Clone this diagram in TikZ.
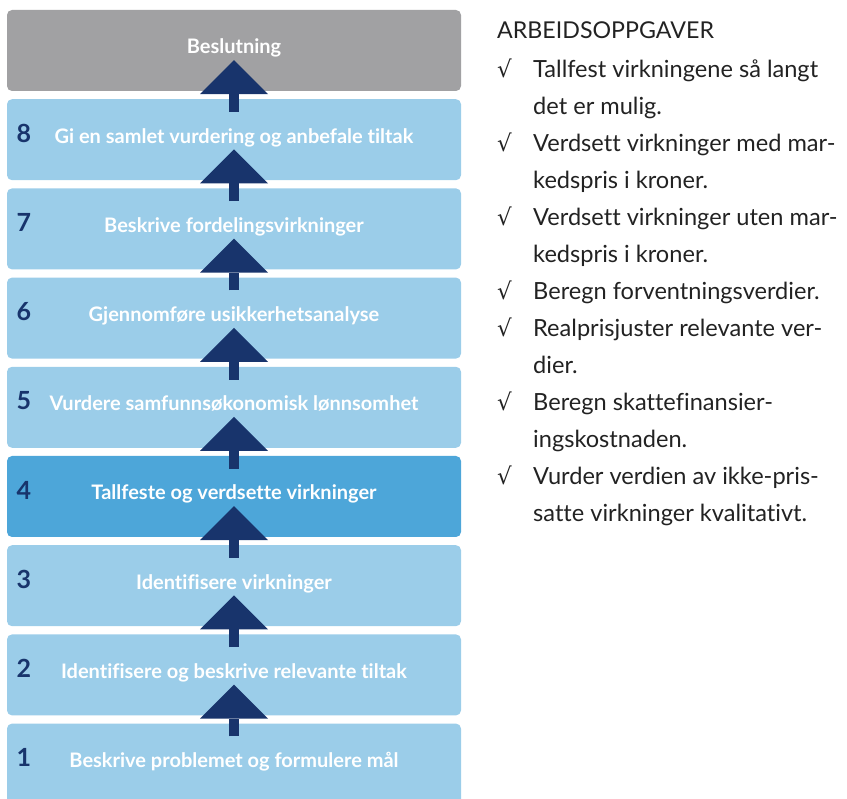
\documentclass[tikz,border=0pt]{standalone}
\usepackage{fontspec}
\setmainfont{Lato}[Ligatures=NoCommon]
\newfontfamily\symfont{DejaVu Sans}
\usetikzlibrary{positioning,arrows.meta}
\definecolor{stepblue}{RGB}{155,205,233}
\definecolor{activeblue}{RGB}{77,166,217}
\definecolor{decisiongray}{RGB}{161,161,163}
\definecolor{navy}{RGB}{24,52,108}
\definecolor{tasktext}{RGB}{34,34,34}

\begin{document}
\begin{tikzpicture}[
	x=1pt,
	y=-1pt,
	node distance=89.2pt,
	on grid,
	stage/.style={
		rectangle,
		rounded corners=5pt,
		fill=stepblue,
		minimum width=454pt,
		minimum height=81pt,
		inner sep=0pt,
		text=white,
		font=\bfseries\fontsize{20}{22}\selectfont,
		text height=14pt,
		text depth=7pt
	},
	num/.style={
		text=navy,
		font=\bfseries\fontsize{25}{28}\selectfont
	},
	up/.style={
		draw=navy,
		line width=10pt,
		-{Triangle[width=68pt,length=34pt,line width=0pt]},
		shorten <=-13pt,
		shorten >=-31pt
	},
	task/.style={
		anchor=base west,
		inner sep=0pt,
		text=tasktext,
		font=\fontsize{23.6}{26}\selectfont
	},
	tick/.style={
		anchor=base west,
		inner sep=0pt,
		text=tasktext,
		font=\symfont\fontsize{23}{26}\selectfont
	}]

	\useasboundingbox (0,0) rectangle (847,799);

	% steps, top to bottom
	\node[stage, fill=decisiongray] (beslutning) at (234,50.5) {Beslutning};
	\node[stage, below=of beslutning] (s8) {Gi en samlet vurdering og anbefale tiltak};
	\node[stage, below=of s8] (s7) {Beskrive fordelingsvirkninger};
	\node[stage, below=of s7] (s6) {Gjennomføre usikkerhetsanalyse};
	\node[stage, below=of s6] (s5) {Vurdere samfunnsøkonomisk lønnsomhet};
	\node[stage, fill=activeblue, below=of s5] (s4) {Tallfeste og verdsette virkninger};
	\node[stage, below=of s4] (s3) {Identifisere virkninger};
	\node[stage, below=of s3] (s2) {Identifisere og beskrive relevante tiltak};
	\node[stage, below=of s2] (s1) {Beskrive problemet og formulere mål};

	\foreach \i in {1,...,8}
		\node[num] (n\i) at ([xshift=17pt,yshift=6.5pt]s\i.west) {\i};

	\foreach \a/\b in {s1/s2,s2/s3,s3/s4,s4/s5,s5/s6,s6/s7,s7/s8,s8/beslutning}
		\draw[up] (\a) -- (\b);

	% task list
	\node[task, font=\fontsize{23.2}{26}\selectfont] (head) at (497,39) {ARBEIDSOPPGAVER};
	\foreach \t [count=\i] in {Tallfest virkningene så langt, det er mulig.,
		Verdsett virkninger med mar-, kedspris i kroner.,
		Verdsett virkninger uten mar-, kedspris i kroner.,
		Beregn forventningsverdier.,
		Realprisjuster relevante ver-, dier.,
		Beregn skattefinansier-, ingskostnaden.,
		Vurder verdien av ikke-pris-, satte virkninger kvalitativt.}
		\node[task] (l\i) at (533,41+37*\i) {\t};
	\foreach \i in {1,3,5,7,8,10,12}
		\node[tick] (c\i) at ([xshift=-36pt]l\i.base west) {√};
\end{tikzpicture}
\end{document}
